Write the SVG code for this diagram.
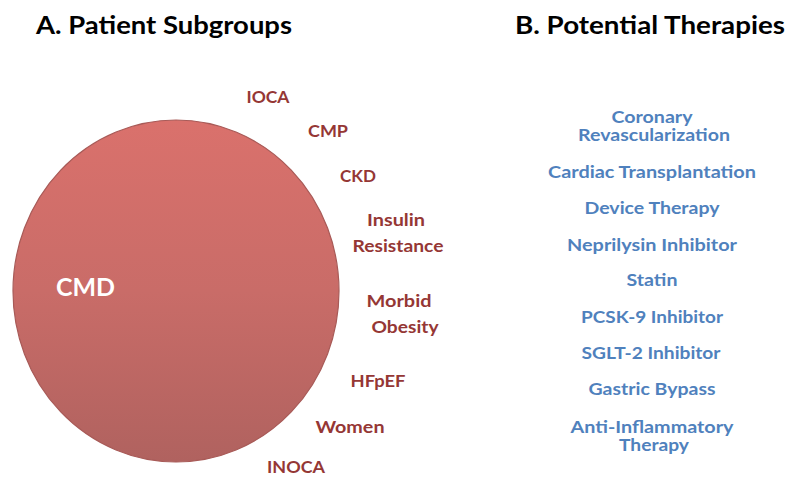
<svg xmlns="http://www.w3.org/2000/svg" width="800" height="490" viewBox="0 0 800 490">
<style>
text{font-family:Lato,"Open Sans","Liberation Sans",sans-serif;font-weight:bold;text-anchor:middle}
.title{font-size:24px;fill:#000}
.sub{font-size:17.5px;fill:#953735}
.ther{font-size:17px;fill:#4F81BD}
.cmd{font-size:24px;fill:#fff;text-anchor:start}
</style>
<defs>
<linearGradient id="g" x1="0" y1="0" x2="0" y2="1">
<stop offset="0" stop-color="#DA716C"/>
<stop offset="0.5" stop-color="#C96C68"/>
<stop offset="1" stop-color="#B0625F"/>
</linearGradient>
</defs>
<rect width="800" height="490" fill="#fff"/>
<text class="title" x="164" y="34" textLength="256" lengthAdjust="spacingAndGlyphs">A. Patient Subgroups</text>
<text class="title" x="650" y="34" textLength="270" lengthAdjust="spacingAndGlyphs">B. Potential Therapies</text>
<g id="cmd">
<ellipse cx="176" cy="291" rx="163" ry="171" fill="url(#g)" stroke="#A85A57" stroke-width="1.2"/>
<text class="cmd" x="56" y="296" textLength="59" lengthAdjust="spacingAndGlyphs">CMD</text>
</g>
<g id="subgroups">
<text class="sub" x="268" y="103" textLength="43" lengthAdjust="spacingAndGlyphs">IOCA</text>
<text class="sub" x="328" y="137" textLength="40" lengthAdjust="spacingAndGlyphs">CMP</text>
<text class="sub" x="358" y="182" textLength="36" lengthAdjust="spacingAndGlyphs">CKD</text>
<text class="sub" x="396" y="226" textLength="58" lengthAdjust="spacingAndGlyphs">Insulin</text>
<text class="sub" x="398" y="252" textLength="91" lengthAdjust="spacingAndGlyphs">Resistance</text>
<text class="sub" x="399" y="307" textLength="65" lengthAdjust="spacingAndGlyphs">Morbid</text>
<text class="sub" x="405" y="333" textLength="67" lengthAdjust="spacingAndGlyphs">Obesity</text>
<text class="sub" x="378" y="387" textLength="55" lengthAdjust="spacingAndGlyphs">HFpEF</text>
<text class="sub" x="350" y="433" textLength="69" lengthAdjust="spacingAndGlyphs">Women</text>
<text class="sub" x="296" y="473" textLength="58" lengthAdjust="spacingAndGlyphs">INOCA</text>
</g>
<g id="therapies">
<text class="ther" x="652" y="123" textLength="81" lengthAdjust="spacingAndGlyphs">Coronary</text>
<text class="ther" x="654" y="141" textLength="152" lengthAdjust="spacingAndGlyphs">Revascularization</text>
<text class="ther" x="652" y="178" textLength="208" lengthAdjust="spacingAndGlyphs">Cardiac Transplantation</text>
<text class="ther" x="652" y="214" textLength="135" lengthAdjust="spacingAndGlyphs">Device Therapy</text>
<text class="ther" x="652" y="251" textLength="170" lengthAdjust="spacingAndGlyphs">Neprilysin Inhibitor</text>
<text class="ther" x="652" y="286" textLength="51" lengthAdjust="spacingAndGlyphs">Statin</text>
<text class="ther" x="652" y="323" textLength="142" lengthAdjust="spacingAndGlyphs">PCSK-9 Inhibitor</text>
<text class="ther" x="651" y="359" textLength="139" lengthAdjust="spacingAndGlyphs">SGLT-2 Inhibitor</text>
<text class="ther" x="652" y="395" textLength="127" lengthAdjust="spacingAndGlyphs">Gastric Bypass</text>
<text class="ther" x="652" y="433" textLength="163" lengthAdjust="spacingAndGlyphs">Anti-Inflammatory</text>
<text class="ther" x="654" y="451" textLength="70" lengthAdjust="spacingAndGlyphs">Therapy</text>
</g>
</svg>
